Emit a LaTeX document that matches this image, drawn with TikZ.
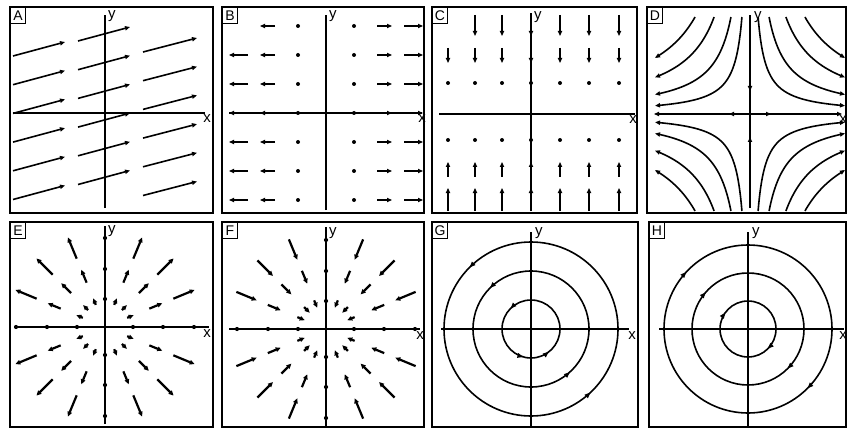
\documentclass[tikz,border=0pt]{standalone}
\usepackage{fontspec}
\setmainfont{Liberation Sans}
\usetikzlibrary{arrows.meta,decorations.markings}

\begin{document}
\begin{tikzpicture}[x=1pt, y=1pt,
    frame/.style={draw, line width=1.6pt},
    tag/.style={draw, line width=0.9pt, anchor=north west, inner sep=0pt, minimum width=15pt, minimum height=16pt, font=\fontsize{14}{14}\selectfont},
    axis/.style={line width=1.5pt},
    lbl/.style={inner sep=0pt, font=\fontsize{15}{15}\selectfont},
    vec/.style={line width=1.6pt, -{Triangle[length=5pt,width=4.2pt]}},
    ray/.style={line width=2.2pt, -{Triangle[length=5pt,width=4.5pt]}},
    orbit/.style={line width=1.6pt},
    tipat/.style={postaction={decorate, decoration={markings, mark=at position #1 with {\arrow{Triangle[length=6pt,width=4.5pt]}}}}},
    tiprev/.style={postaction={decorate, decoration={markings, mark=at position #1 with {\arrowreversed{Triangle[length=6pt,width=4.5pt]}}}}}
]
    \useasboundingbox (0,0) rectangle (848,429);

    % A
    \draw[frame] (10,216) rectangle (213,422);
    \node[tag] (tagA) at (10,422) {A};
    \begin{scope}[shift={(105,316)}]
        \draw[axis] (-92,0) -- (100,0);
        \draw[axis] (0,-95) -- (0,98);
        \node[lbl, anchor=west] (yA) at (3,97) {y};
        \node[lbl, anchor=north] (xA) at (102,-1) {x};
        \foreach \k in {0,...,5} {
            \draw[vec] (-92,57-28.7*\k) -- ++(52,14);
            \draw[vec] (-27,72-28.7*\k) -- ++(52,14);
            \draw[vec] (38,61-28.7*\k) -- ++(54,14);
        }
    \end{scope}

    % B
    \draw[frame] (222,216) rectangle (424,422);
    \node[tag] (tagB) at (222,422) {B};
    \begin{scope}[shift={(326,316)}]
        \draw[axis] (-97,0) -- (96,0);
        \draw[axis] (0,-97) -- (0,98);
        \node[lbl, anchor=west] (yB) at (3,97) {y};
        \node[lbl, anchor=north] (xB) at (96,-1) {x};
        \foreach \y in {87,58,29,0,-29,-58,-87} {
            \fill (-28,\y) circle (2);
            \fill (28,\y) circle (2);
            \draw[vec] (-51,\y) -- (-66,\y);
            \draw[vec] (51,\y) -- (66,\y);
            \draw[vec] (78,\y) -- (97,\y);
        }
        \foreach \y in {58,29,0,-29,-58,-87}
            \draw[vec] (-78,\y) -- (-97,\y);
    \end{scope}

    % C
    \draw[frame] (432,216) rectangle (637,422);
    \node[tag] (tagC) at (432,422) {C};
    \begin{scope}[shift={(531,315)}]
        \draw[axis] (-92,0) -- (104,0);
        \draw[axis] (0,-96) -- (0,101);
        \node[lbl, anchor=west] (yC) at (3,97) {y};
        \node[lbl, anchor=north] (xC) at (102,-1) {x};
        \foreach \x in {-56,-29,0,29,58,88}
            \draw[vec] (\x,99) -- (\x,78);
        \foreach \x in {-83,-56,-29,0,29,58,88} {
            \draw[vec] (\x,66) -- (\x,51);
            \fill (\x,31) circle (2);
            \fill (\x,-26) circle (2);
            \draw[vec] (\x,-63) -- (\x,-48);
            \draw[vec] (\x,-97) -- (\x,-74);
        }
    \end{scope}

    % D
    \draw[frame] (647,216) rectangle (846,422);
    \node[tag] (tagD) at (647,422) {D};
    \begin{scope}[shift={(750,315)}]
        \draw[axis] (0,-94) -- (0,99);
        \draw[axis] (-85,0) -- (84,0);
        \draw[vec] (-84,0) -- (-96,0);
        \draw[vec] (83,0) -- (92,0);
        \draw[vec] (-10,0) -- (-21,0);
        \draw[vec] (10,0) -- (21,0);
        \draw[vec] (0,35) -- (0,23);
        \draw[vec] (0,-35) -- (0,-23);
        \node[lbl, anchor=west] (yD) at (4,97) {y};
        \node[lbl, anchor=north] (xD) at (93,-1) {x};
        \foreach \s in {28,43,59,73} {
            \pgfmathsetmacro\ta{-ln(97/\s)}
            \pgfmathsetmacro\tb{ln(95/\s)}
            \foreach \sx/\sy in {1/1,1/-1,-1/1,-1/-1}
                \draw[vec] plot[domain=\ta:\tb, samples=30, smooth] ({\sx*\s*exp(\x)}, {\sy*\s*exp(-\x)});
        }
    \end{scope}

    % E
    \draw[frame] (10,2) rectangle (213,207);
    \node[tag] (tagE) at (10,207) {E};
    \begin{scope}[shift={(105,102)}]
        \draw[axis] (-90,0) -- (104,0);
        \draw[axis] (0,-97) -- (0,101);
        \node[lbl, anchor=west] (yE) at (3,96) {y};
        \node[lbl, anchor=north] (xE) at (102,-2) {x};
        \foreach \r in {-89,-58,-28,28,58,89} {
            \fill (\r,0) circle (2.1);
            \fill (0,\r) circle (2.1);
        }
        \foreach \a in {22.5,45,67.5,112.5,135,157.5,202.5,225,247.5,292.5,315,337.5} {
            \draw[ray] (\a:24) -- (\a:31);
            \draw[ray] (\a:48) -- (\a:62);
            \draw[ray] (\a:74) -- (\a:97);
        }
    \end{scope}

    % F
    \draw[frame] (222,2) rectangle (424,207);
    \node[tag] (tagF) at (222,207) {F};
    \begin{scope}[shift={(326,100)}]
        \draw[axis] (-97,0) -- (94,0);
        \draw[axis] (0,-97) -- (0,102);
        \node[lbl, anchor=west] (yF) at (3,96) {y};
        \node[lbl, anchor=north] (xF) at (94,-2) {x};
        \foreach \r in {-89,-58,-28,28,58,89} {
            \fill (\r,0) circle (2.1);
            \fill (0,\r) circle (2.1);
        }
        \foreach \a in {22.5,45,67.5,112.5,135,157.5,202.5,225,247.5,292.5,315,337.5} {
            \draw[ray] (\a:31) -- (\a:23);
            \draw[ray] (\a:63) -- (\a:49);
            \draw[ray] (\a:97) -- (\a:75);
        }
    \end{scope}

    % G
    \draw[frame] (432,2) rectangle (638,207);
    \node[tag] (tagG) at (432,207) {G};
    \begin{scope}[shift={(531,100)}]
        \draw[axis] (-90,0) -- (98,0);
        \draw[axis] (0,-97) -- (0,97);
        \node[lbl, anchor=west] (yG) at (4,96) {y};
        \node[lbl, anchor=north] (xG) at (101,-2) {x};
        \draw[orbit, tipat=0.375, tipat=0.87] (0,0) circle[radius=87];
        \draw[orbit, tipat=0.375, tipat=0.867] (0,0) circle[radius=58];
        \draw[orbit, tipat=0.375, tipat=0.708, tipat=0.856] (0,0) circle[radius=29];
    \end{scope}

    % H
    \draw[frame] (649,2) rectangle (846,207);
    \node[tag] (tagH) at (649,207) {H};
    \begin{scope}[shift={(748,100)}]
        \draw[axis] (-89,0) -- (96,0);
        \draw[axis] (0,-97) -- (0,97);
        \node[lbl, anchor=west] (yH) at (4,96) {y};
        \node[lbl, anchor=north] (xH) at (95,-2) {x};
        \draw[orbit, tiprev=0.381, tiprev=0.875] (0,0) circle[radius=84];
        \draw[orbit, tiprev=0.386, tiprev=0.875] (0,0) circle[radius=56];
        \draw[orbit, tiprev=0.4, tiprev=0.875] (0,0) circle[radius=28];
    \end{scope}
\end{tikzpicture}
\end{document}
